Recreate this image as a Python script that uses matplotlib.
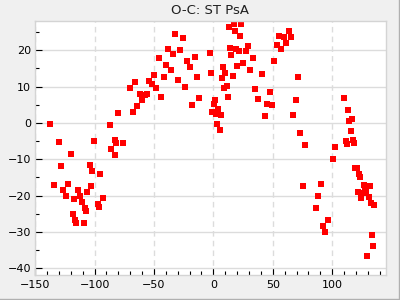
# -*- coding: utf-8 -*-
"""O-C scatter plot: ST PsA"""
import matplotlib
matplotlib.use('Agg')
import matplotlib.pyplot as plt
from matplotlib.lines import Line2D
from matplotlib.ticker import MultipleLocator

# phase-ish x values and O-C residuals
x_vals = [-137.3, -134.4, -130.2, -128.5, -126.8, -124.3, -122.6, -120.1, -118.4, -117.6,
          -116.8, -115.9, -114.2, -112.6, -110.9, -109.2, -108.4, -107.5, -106.7, -104.2,
          -103.4, -102.5, -100.8, -97.5, -96.6, -95.8, -93.3, -87.4, -85.8, -83.2,
          -82.4, -81.6, -79.9, -75.7, -69.8, -67.3, -65.6, -64.0, -61.5, -59.8,
          -57.3, -55.6, -53.9, -51.4, -49.7, -48.0, -45.5, -43.9, -41.3, -39.7,
          -38.0, -35.5, -33.8, -32.1, -29.6, -27.9, -25.4, -23.7, -22.1, -19.6,
          -17.9, -15.4, -13.7, -12.0, -2.8, -2.0, -1.1, 0.6, 1.4, 2.2,
          3.1, 3.9, 5.6, 6.4, 7.3, 8.1, 8.9, 9.8, 11.5, 12.3,
          13.1, 14.0, 14.8, 16.5, 17.3, 18.2, 19.0, 19.8, 21.5, 22.3,
          23.2, 24.9, 27.4, 29.1, 30.7, 33.2, 34.9, 37.4, 40.8, 43.3,
          45.0, 47.5, 49.2, 50.8, 53.4, 55.0, 56.7, 59.2, 60.9, 63.4,
          65.1, 66.8, 69.3, 70.9, 72.6, 75.1, 76.8, 86.0, 87.7, 90.2,
          91.9, 93.6, 96.1, 100.3, 102.0, 110.3, 112.0, 112.8, 113.7, 114.5,
          116.2, 117.0, 117.9, 118.7, 119.6, 121.2, 122.1, 122.9, 123.7, 124.6,
          126.3, 127.1, 127.9, 128.8, 129.6, 131.3, 132.1, 133.0, 133.8, 134.6,
          135.5]
oc_vals = [-0.4, -17.2, -5.3, -11.9, -18.5, -20.2, -16.9, -8.6, -25.1, -21.0,
           -26.8, -27.6, -18.5, -20.2, -21.8, -27.6, -23.5, -24.3, -19.1, -11.7,
           -17.4, -13.3, -5.0, -22.4, -23.2, -14.1, -20.7, -0.6, -7.2, -8.9,
           -4.8, -5.6, 2.7, -5.6, 9.5, 2.9, 11.2, 4.6, 7.9, 6.2,
           7.6, 7.9, 11.5, 10.6, 13.1, 9.5, 17.8, 7.1, 12.6, 15.9,
           20.3, 14.5, 18.9, 24.4, 11.7, 20.0, 23.3, 9.8, 17.0, 15.3,
           4.9, 18.1, 12.6, 6.8, 19.4, 13.7, 2.9, 5.1, 6.2, 2.4,
           -0.4, 3.8, -2.0, 2.1, 12.3, 15.3, 9.5, 13.7, 10.1, 7.1,
           26.3, 20.6, 18.6, 12.8, 27.2, 25.2, 20.3, 15.6, 19.7, 23.9,
           27.2, 16.4, 19.7, 21.1, 14.5, 17.8, 9.3, 6.5, 13.4, 1.8,
           5.1, 8.4, 4.9, 17.0, 21.4, 23.9, 20.3, 23.6, 21.9, 25.2,
           23.6, 2.1, 6.2, 12.6, -2.8, -17.4, -6.1, -23.5, -20.2, -16.9,
           -28.4, -30.1, -26.8, -10.0, -6.7, 6.8, -5.0, -5.9, 3.5, 0.5,
           -2.3, 1.0, -4.8, -5.6, -12.5, -12.5, -19.1, -14.1, -15.0, -20.7,
           -19.4, -17.2, -18.3, -18.8, -36.7, -20.5, -17.4, -22.1, -30.9, -33.9,
           -22.7]

x_ticks = [-150, -100, -50, 0, 50, 100]
y_ticks = [-40, -30, -20, -10, 0, 10, 20]

fig = plt.figure(figsize=(4, 3), dpi=100, facecolor='#f0f0f0')
ax = fig.add_axes([0.088, 0.082, 0.876, 0.847])
ax.set_facecolor('white')

ax.plot(x_vals, oc_vals, linestyle='none', marker='s', markersize=3.7,
        color='#ff0000', markeredgewidth=0)

ax.set_xlim(-150, 145)
ax.set_ylim(-42, 28)
ax.set_xticks(x_ticks)
ax.set_yticks(y_ticks)
ax.xaxis.set_minor_locator(MultipleLocator(10))
ax.yaxis.set_minor_locator(MultipleLocator(5))

ax.tick_params(axis='both', which='both', direction='in', top=False, right=False,
               labelsize=8, color='black', width=0.8, pad=3)
ax.tick_params(which='major', length=5)
ax.tick_params(which='minor', length=3)

# 网格: 横线实线, 竖线虚线
ax.yaxis.grid(True, color='#dcdcdc', linestyle='-', linewidth=1)
ax.xaxis.grid(True, color='#dcdcdc', linestyle=(0, (4, 3)), linewidth=1)
ax.set_axisbelow(True)

for s in ax.spines.values():
    s.set_color('#d4d4d4')
    s.set_linewidth(1)

ax.set_title('O-C: ST PsA', fontsize=9.5, color='#202020', pad=5)

# outer frame on right / bottom
fig.add_artist(Line2D([0.9975, 0.9975], [0, 1], transform=fig.transFigure,
                      color='#b0b0b0', linewidth=1))
fig.add_artist(Line2D([0, 1], [0.0035, 0.0035], transform=fig.transFigure,
                      color='#b0b0b0', linewidth=1))

fig.savefig('out.png', dpi=100, facecolor=fig.get_facecolor())
